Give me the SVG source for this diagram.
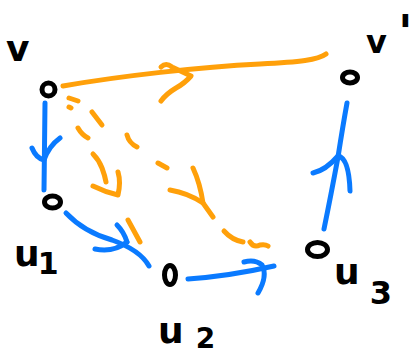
<svg xmlns="http://www.w3.org/2000/svg" width="414" height="354" viewBox="0 0 414 354">
  <style>
    .ink { fill: none; stroke-linecap: round; stroke-linejoin: round; stroke-width: 5; }
    .blue { stroke: #0A7AFF; }
    .orange { stroke: #FFA00A; }
    .node { fill: none; stroke: #000; stroke-width: 5; }
    .lbl { font-family: "DejaVu Sans", "Liberation Sans", sans-serif; font-weight: bold; fill: #000; }
  </style>
  <rect width="414" height="354" fill="#fff"/>

  <g id="connectors">
    <!-- v to v' (solid orange) -->
    <g id="edge-v-vp" class="ink orange">
      <path d="M63,86 C120,76 200,67 260,64 C300,62 318,60 326,54"/>
      <path d="M161,67 Q166,62 172,67 L191,76 Q185,83 176,88 Q166,94 161,101"/>
    </g>
    <!-- v to u2 (dashed orange) -->
    <g id="edge-v-u2" class="ink orange">
      <path d="M69,107 L71,108"/>
      <path d="M78,128 Q82,135 88,138"/>
      <path d="M93,154 Q99,160 102,168 Q105,176 106,182"/>
      <path d="M93,186 Q105,192 118,195 Q121,182 118,172"/>
      <path d="M128,220 L140,242"/>
    </g>
    <!-- v to u3 (dashed orange) -->
    <g id="edge-v-u3" class="ink orange">
      <path d="M69,98 L78,101"/>
      <path d="M92,112 L102,125"/>
      <path d="M127,135 Q129,143 137,147"/>
      <path d="M158,163 L167,168"/>
      <path d="M193,168 Q200,183 203,203 L213,217"/>
      <path d="M170,190 Q188,193 203,203"/>
      <path d="M224,231 Q232,240 243,242"/>
      <path d="M250,242 Q254,248 260,245 Q265,244 268,246"/>
    </g>
    <!-- v to u1 -->
    <g id="edge-v-u1" class="ink blue">
      <path d="M45,103 L44,190"/>
      <path d="M32,148 Q36,158 44,160 Q49,146 60,138"/>
    </g>
    <!-- u1 to u2 -->
    <g id="edge-u1-u2" class="ink blue">
      <path d="M66,213 Q84,232 112,240 Q140,250 149,266"/>
      <path d="M117,225 Q124,232 127,242"/>
      <path d="M95,249 Q113,253 127,242"/>
    </g>
    <!-- u2 to u3 -->
    <g id="edge-u2-u3" class="ink blue">
      <path d="M188,279 Q230,276 274,266"/>
      <path d="M244,262 Q255,259 262,265 Q268,276 258,293"/>
    </g>
    <!-- u3 to v' -->
    <g id="edge-u3-vp" class="ink blue">
      <path d="M324,229 Q331,195 338,157 Q343,125 347,103"/>
      <path d="M313,173 Q326,170 338,156 Q349,158 350,191"/>
    </g>
  </g>

  <g id="node-v">
    <ellipse class="node" cx="48.5" cy="89.5" rx="6.5" ry="6.5"/>
    <text class="lbl" x="6" y="61" font-size="36">v</text>
  </g>
  <g id="node-vp">
    <ellipse class="node" cx="350" cy="77.5" rx="7.5" ry="5.5"/>
    <text class="lbl" x="366" y="53" font-size="32">v<tspan x="398" y="49" font-size="48">'</tspan></text>
  </g>
  <g id="node-u1">
    <ellipse class="node" cx="52.5" cy="202" rx="8" ry="6"/>
    <text class="lbl" x="14" y="266" font-size="36">u<tspan font-size="30" dx="-2" dy="8">1</tspan></text>
  </g>
  <g id="node-u2">
    <ellipse class="node" cx="170" cy="275" rx="5.5" ry="9.5"/>
    <text class="lbl" x="158" y="343" font-size="36">u<tspan font-size="28" dx="12" dy="5">2</tspan></text>
  </g>
  <g id="node-u3">
    <ellipse class="node" cx="317.5" cy="249.5" rx="10" ry="7"/>
    <text class="lbl" x="334" y="284" font-size="36">u<tspan font-size="32" dx="10" dy="20">3</tspan></text>
  </g>
</svg>
